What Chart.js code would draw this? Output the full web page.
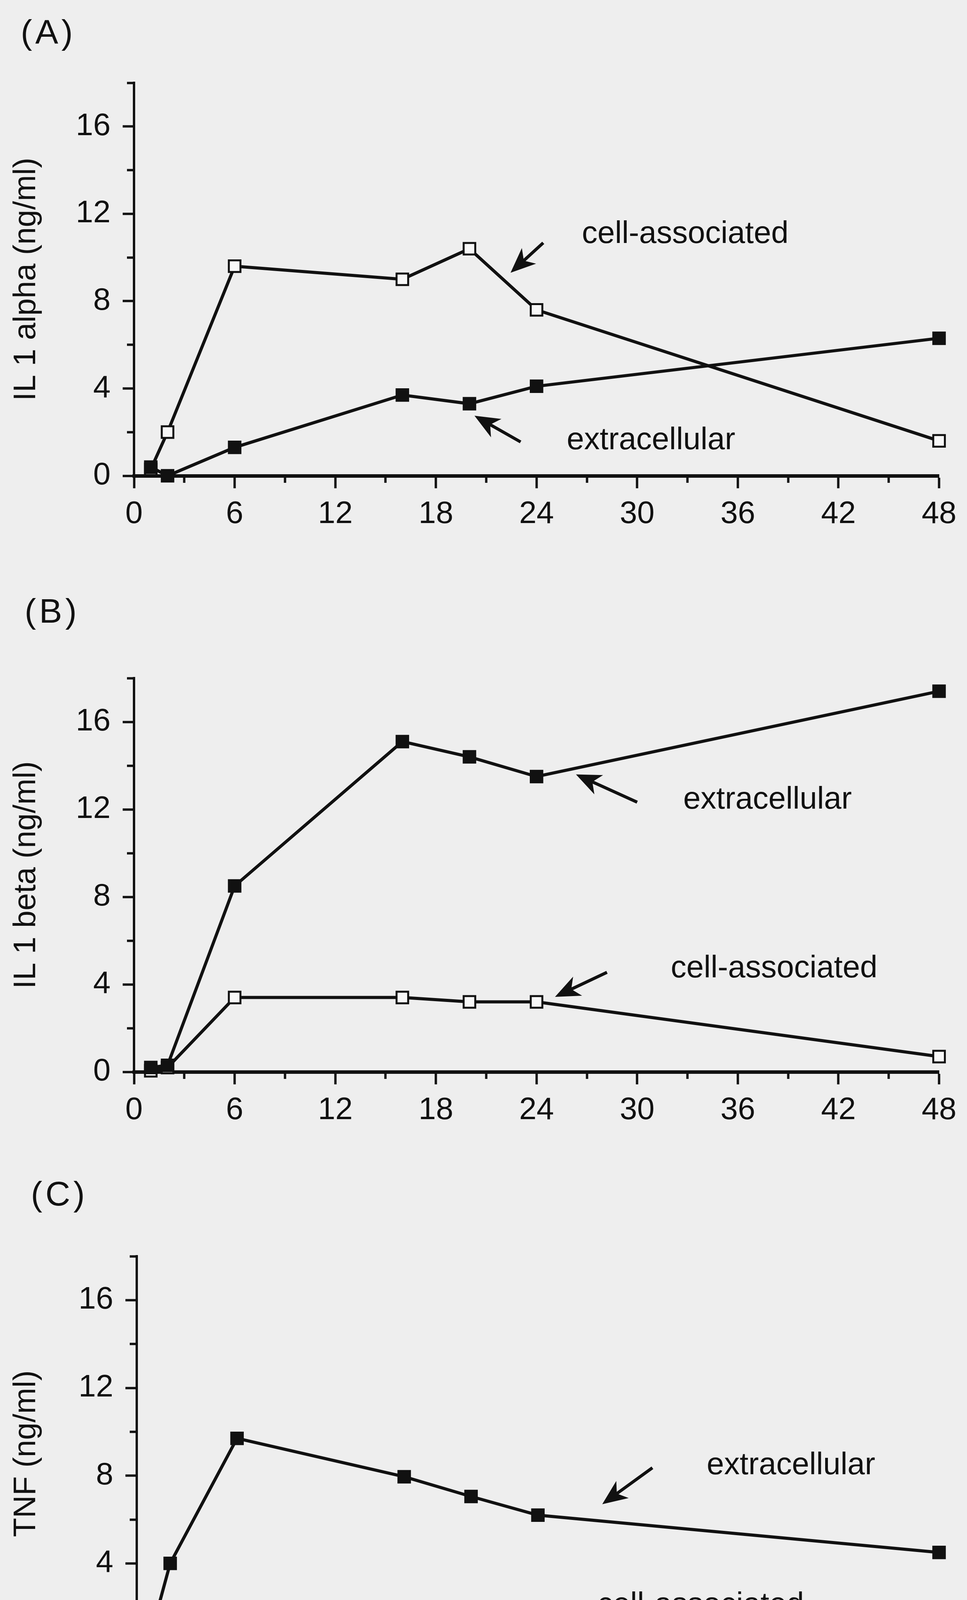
<!doctype html>
<html lang="en">

<head>
  <meta charset="UTF-8">
  <title>IL 1 alpha, IL 1 beta and TNF over time</title>
  <style>
    html,
    body {
      margin: 0;
      padding: 0;
      background-color: #eeeeee;
    }

    body {
      position: relative;
      width: 2475px;
      height: 4490px;
      overflow: hidden;
    }

    canvas {
      position: absolute;
      left: 0;
    }
  </style>
</head>

<body>
  <canvas id="panelA" width="2475" height="1420" style="top:0px"></canvas>
  <canvas id="panelB" width="2475" height="1480" style="top:1420px"></canvas>
  <canvas id="panelC" width="2475" height="1590" style="top:2900px"></canvas>

  <script src="https://cdn.jsdelivr.net/npm/chart.js@4.4.1/dist/chart.umd.min.js"></script>

  <script>
    // sampling times (hours) and values (ng/ml)
    const hours = [1, 2, 6, 16, 20, 24, 48];

    const il1aExtra = [0.4, 0.0, 1.3, 3.7, 3.3, 4.1, 6.3];
    const il1aCell = [0.3, 2.0, 9.6, 9.0, 10.4, 7.6, 1.6];

    const il1bExtra = [0.2, 0.3, 8.5, 15.1, 14.4, 13.5, 17.4];
    const il1bCell = [0.05, 0.2, 3.4, 3.4, 3.2, 3.2, 0.7];

    const tnfExtra = [1.2, 4.0, 9.7, 7.95, 7.05, 6.2, 4.5];
    const tnfCell = [0.0, 0.9, 0.45, 0.9, 0.2, 0.2, 0.05];

    // axis ticks
    const xTicks = [0, 6, 12, 18, 24, 30, 36, 42, 48];
    const xMinorTicks = [3, 9, 15, 21, 27, 33, 39, 45];
    const yTicks = [0, 4, 8, 12, 16];
    const yMinorTicks = [2, 6, 10, 14, 18];

    const ink = '#111';
    const family = '"Liberation Sans", Arial, Helvetica, sans-serif';

    function points(vals) {
      return hours.map((h, i) => ({ x: h, y: vals[i] }));
    }

    function drawArrow(ctx, fx, fy, tx, ty) {
      const ang = Math.atan2(ty - fy, tx - fx);
      const c = Math.cos(ang), s = Math.sin(ang);
      const len = 64, half = 27;
      ctx.lineWidth = 8;
      ctx.lineCap = 'butt';
      ctx.beginPath();
      ctx.moveTo(fx, fy);
      ctx.lineTo(tx - len * 0.6 * c, ty - len * 0.6 * s);
      ctx.stroke();
      ctx.beginPath();
      ctx.moveTo(tx, ty);
      ctx.lineTo(tx - len * c - half * s, ty - len * s + half * c);
      ctx.lineTo(tx - len * 0.72 * c, ty - len * 0.72 * s);
      ctx.lineTo(tx - len * c + half * s, ty - len * s - half * c);
      ctx.closePath();
      ctx.fill();
    }

    // labels, arrows and panel letter
    const panelText = {
      id: 'panelText',
      afterDatasetsDraw(chart, args, opts) {
        const ctx = chart.ctx;
        const x = chart.scales.x, y = chart.scales.y;
        ctx.save();
        ctx.fillStyle = ink;
        ctx.strokeStyle = ink;
        ctx.textAlign = 'left';
        ctx.textBaseline = 'alphabetic';
        ctx.font = '80px ' + family;
        (opts.notes || []).forEach(function (n) {
          ctx.fillText(n.text, x.getPixelForValue(n.x), y.getPixelForValue(n.y));
        });
        (opts.arrows || []).forEach(function (a) {
          drawArrow(ctx, x.getPixelForValue(a[0]), y.getPixelForValue(a[1]),
            x.getPixelForValue(a[2]), y.getPixelForValue(a[3]));
        });
        if (opts.tag) {
          ctx.font = '88px ' + family;
          ctx.letterSpacing = '8px';
          ctx.fillText(opts.tag.text, opts.tag.left, opts.tag.base);
        }
        ctx.restore();
      }
    };

    function makePanel(id, extra, cell, cfg) {
      const font = { family: family, size: 80, lineHeight: 1 };
      new Chart(id, {
        type: 'line',
        data: {
          datasets: [{
            label: 'extracellular',
            data: points(extra),
            borderColor: ink,
            borderWidth: 8,
            pointStyle: 'rect',
            pointRadius: 23,
            pointBackgroundColor: ink,
            pointBorderColor: ink,
            pointBorderWidth: 2,
            tension: 0,
            clip: false
          }, {
            label: 'cell-associated',
            data: points(cell),
            borderColor: ink,
            borderWidth: 8,
            pointStyle: 'rect',
            pointRadius: 21,
            pointBackgroundColor: '#f8f8f8',
            pointBorderColor: ink,
            pointBorderWidth: 5,
            tension: 0,
            clip: false
          }]
        },
        options: {
          responsive: false,
          animation: false,
          devicePixelRatio: 1,
          layout: { padding: { top: cfg.top, right: 54, left: 0, bottom: 0 } },
          plugins: {
            legend: { display: false },
            tooltip: { enabled: false },
            panelText: cfg.text
          },
          scales: {
            x: {
              type: 'linear', position: 'bottom', weight: 1, min: 0, max: 48,
              afterBuildTicks: s => { s.ticks = xTicks.map(v => ({ value: v })); },
              afterFit: s => { s.height = cfg.xHeight; },
              ticks: { font: font, color: ink, padding: 27, maxRotation: 0, autoSkip: false },
              grid: { drawOnChartArea: false, tickLength: 32, tickWidth: 6, color: ink },
              border: { display: true, width: 9, color: ink },
              title: {
                display: !!cfg.xTitle, text: cfg.xTitle || '', color: ink,
                font: font, padding: { top: 0, bottom: 4 }
              }
            },
            xMinor: {
              type: 'linear', position: 'bottom', weight: 0, min: 0, max: 48,
              afterBuildTicks: s => { s.ticks = xMinorTicks.map(v => ({ value: v })); },
              afterFit: s => { s.height = 0; },
              ticks: { display: false },
              grid: { drawOnChartArea: false, tickLength: 18, tickWidth: 6, color: ink },
              border: { display: false }
            },
            y: {
              type: 'linear', position: 'left', weight: 1, min: 0, max: 18,
              afterBuildTicks: s => { s.ticks = yTicks.map(v => ({ value: v })); },
              afterFit: s => { s.width = cfg.left; },
              ticks: { font: font, color: ink, padding: 31 },
              grid: { drawOnChartArea: false, tickLength: 29, tickWidth: 6, color: ink },
              border: { display: true, width: 6, color: ink },
              title: {
                display: true, text: cfg.yTitle, color: ink,
                font: font, padding: { top: 28, bottom: 0 }
              }
            },
            yMinor: {
              type: 'linear', position: 'left', weight: 0, min: 0, max: 18,
              afterBuildTicks: s => { s.ticks = yMinorTicks.map(v => ({ value: v })); },
              afterFit: s => { s.width = 0; },
              ticks: { display: false },
              grid: { drawOnChartArea: false, tickLength: 18, tickWidth: 6, color: ink },
              border: { display: false }
            }
          }
        },
        plugins: [panelText]
      });
    }

    makePanel('panelA', il1aExtra, il1aCell, {
      top: 212, xHeight: 202, left: 343,
      yTitle: 'IL 1 alpha (ng/ml)',
      text: {
        tag: { text: '(A)', left: 53, base: 112 },
        notes: [
          { text: 'cell-associated', x: 26.7, y: 10.67 },
          { text: 'extracellular', x: 25.8, y: 1.21 }
        ],
        arrows: [[24.4, 10.67, 22.45, 9.3], [23.05, 1.55, 20.3, 2.75]]
      }
    });

    makePanel('panelB', il1bExtra, il1bCell, {
      top: 316, xHeight: 156, left: 343,
      yTitle: 'IL 1 beta (ng/ml)',
      text: {
        tag: { text: '(B)', left: 63, base: 174 },
        notes: [
          { text: 'extracellular', x: 32.75, y: 12.03 },
          { text: 'cell-associated', x: 32.0, y: 4.33 }
        ],
        arrows: [[30.0, 12.33, 26.35, 13.6], [28.2, 4.55, 25.1, 3.43]]
      }
    });

    makePanel('panelC', tnfExtra, tnfCell, {
      top: 316, xHeight: 263, left: 350,
      yTitle: 'TNF (ng/ml)',
      xTitle: 'time of incubation (hours)',
      text: {
        tag: { text: '(C)', left: 79, base: 186 },
        notes: [
          { text: 'extracellular', x: 34.1, y: 8.06 },
          { text: 'cell-associated', x: 27.55, y: 1.69 }
        ],
        arrows: [[30.85, 8.36, 27.85, 6.7], [24.0, 1.83, 21.05, 0.73]]
      }
    });
  </script>
</body>

</html>
